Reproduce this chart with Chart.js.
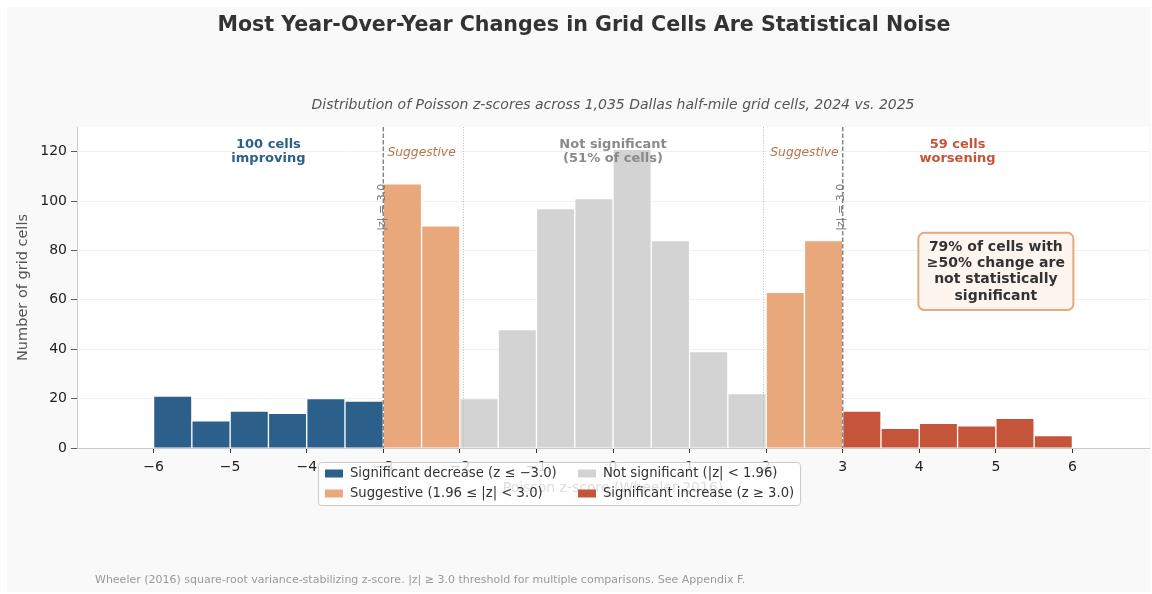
<!DOCTYPE html>
<html>
<head>
<meta charset="utf-8">
<script src="https://cdn.jsdelivr.net/npm/chart.js@4.4.1/dist/chart.umd.min.js"></script>
<style>
  html, body { margin: 0; padding: 0; background: #ffffff; }
  #wrap { width: 1152px; height: 594px; position: relative; }
</style>
</head>
<body>
<div id="wrap"><canvas id="chart"></canvas></div>
<script>
// histogram bins (width 0.5), z-score bin centres
const binCenters = [-5.75, -5.25, -4.75, -4.25, -3.75, -3.25, -2.75, -2.25,
                    -1.75, -1.25, -0.75, -0.25, 0.25, 0.75, 1.25, 1.75,
                    2.25, 2.75, 3.25, 3.75, 4.25, 4.75, 5.25, 5.75];
// number of grid cells per bin
const cellCounts = [21, 11, 15, 14, 20, 19, 107, 90,
                    20, 48, 97, 101, 121, 84, 39, 22,
                    63, 84, 15, 8, 10, 9, 12, 5];
// significance class of each bin
const binClass = ['dec', 'dec', 'dec', 'dec', 'dec', 'dec', 'sug', 'sug',
                  'ns', 'ns', 'ns', 'ns', 'ns', 'ns', 'ns', 'ns',
                  'sug', 'sug', 'inc', 'inc', 'inc', 'inc', 'inc', 'inc'];

const classKeys = ['dec', 'sug', 'ns', 'inc'];
const classLabels = ['Significant decrease (z \u2264 \u22123.0)', 'Suggestive (1.96 \u2264 |z| < 3.0)',
                     'Not significant (|z| < 1.96)', 'Significant increase (z \u2265 3.0)'];
const classColors = ['#2c5f8a', '#e8a87c', '#d3d3d3', '#c4553a'];

const xTicks = [-6, -5, -4, -3, -2, -1, 0, 1, 2, 3, 4, 5, 6];
const yTicks = [0, 20, 40, 60, 80, 100, 120];

const FONT = '"DejaVu Sans", "Noto Sans", sans-serif';

const datasets = classKeys.map((k, i) => ({
  label: classLabels[i],
  data: binCenters.map((c, j) => ({ x: c, y: cellCounts[j], k: binClass[j] }))
                  .filter(p => p.k === k),
  backgroundColor: classColors[i],
  borderColor: '#ffffff',
  borderWidth: 1,
  grouped: false,
  barPercentage: 1,
  categoryPercentage: 1
}));

function minusLabel(v) {
  return v < 0 ? '\u2212' + Math.abs(v) : String(v);
}

// background panel + plot area
const backdrop = {
  id: 'backdrop',
  beforeDraw(chart) {
    const ctx = chart.ctx, a = chart.chartArea;
    ctx.save();
    ctx.fillStyle = '#f9f9f9';
    ctx.fillRect(7, 7, 1143, 585);
    ctx.fillStyle = '#ffffff';
    ctx.fillRect(a.left, a.top, a.right - a.left, a.bottom - a.top);
    ctx.restore();
  }
};

// thresholds, region labels, callout
const annotations = {
  id: 'annotations',
  afterDatasetsDraw(chart) {
    const ctx = chart.ctx, a = chart.chartArea;
    const xs = chart.scales.x, ys = chart.scales.y;
    ctx.save();

    // |z| = 1.96 dotted
    ctx.strokeStyle = '#bbbbbb';
    ctx.lineWidth = 1;
    ctx.setLineDash([1, 1.65]);
    [-1.96, 1.96].forEach(v => {
      const px = Math.round(xs.getPixelForValue(v)) + 0.5;
      ctx.beginPath(); ctx.moveTo(px, a.top); ctx.lineTo(px, a.bottom); ctx.stroke();
    });

    // |z| = 3 dashed
    ctx.strokeStyle = '#888888';
    ctx.lineWidth = 1.5;
    ctx.setLineDash([4.5, 2]);
    [-3, 3].forEach(v => {
      const px = xs.getPixelForValue(v);
      ctx.beginPath(); ctx.moveTo(px, a.top); ctx.lineTo(px, a.bottom); ctx.stroke();
    });
    ctx.setLineDash([]);

    // rotated threshold labels
    ctx.fillStyle = '#777777';
    ctx.font = '11px ' + FONT;
    ctx.textAlign = 'right';
    ctx.textBaseline = 'middle';
    [-3, 3].forEach(v => {
      ctx.save();
      ctx.translate(xs.getPixelForValue(v) - 1.5, ys.getPixelForValue(107));
      ctx.rotate(-Math.PI / 2);
      ctx.fillText('|z| = 3.0', 0, 0);
      ctx.restore();
    });

    // region labels
    ctx.textAlign = 'center';
    const lines = (txt, x, yv, color, font) => {
      ctx.fillStyle = color;
      ctx.font = font;
      const y0 = ys.getPixelForValue(yv);
      txt.forEach((t, i) => ctx.fillText(t, xs.getPixelForValue(x), y0 + i * 14));
    };
    lines(['100 cells', 'improving'], -4.5, 122.8, '#2c5f8a', 'bold 13px ' + FONT);
    lines(['Not significant', '(51% of cells)'], 0, 122.8, '#8a8a8a', 'bold 13px ' + FONT);
    lines(['59 cells', 'worsening'], 4.5, 122.8, '#c4553a', 'bold 13px ' + FONT);
    lines(['Suggestive'], -2.5, 119.6, '#b5784f', 'italic 12.3px ' + FONT);
    lines(['Suggestive'], 2.5, 119.6, '#b5784f', 'italic 12.3px ' + FONT);

    // callout box
    const boxLines = ['79% of cells with', '\u226550% change are', 'not statistically', 'significant'];
    ctx.font = 'bold 14px ' + FONT;
    const w = Math.max(...boxLines.map(t => ctx.measureText(t).width)) + 17;
    const lh = 16.3;
    const h = boxLines.length * lh + 12;
    const cx = xs.getPixelForValue(5), cy = ys.getPixelForValue(71.5);
    ctx.beginPath();
    ctx.roundRect(cx - w / 2, cy - h / 2, w, h, 6);
    ctx.fillStyle = '#fef6ee';
    ctx.fill();
    ctx.strokeStyle = '#e8a87c';
    ctx.lineWidth = 2;
    ctx.stroke();
    ctx.fillStyle = '#333333';
    boxLines.forEach((t, i) => ctx.fillText(t, cx, cy - h / 2 + 6 + lh * (i + 0.5)));

    ctx.restore();
  }
};

// title, subtitle, x-axis title, legend, footnote
const overlay = {
  id: 'overlay',
  afterDraw(chart) {
    const ctx = chart.ctx, a = chart.chartArea;
    const mid = (a.left + a.right) / 2;
    ctx.save();
    ctx.textAlign = 'center';
    ctx.textBaseline = 'middle';

    ctx.fillStyle = '#333333';
    ctx.font = 'bold 20.6px ' + FONT;
    ctx.fillText('Most Year-Over-Year Changes in Grid Cells Are Statistical Noise', 584, 26);

    ctx.fillStyle = '#555555';
    ctx.font = 'italic 14px ' + FONT;
    ctx.fillText('Distribution of Poisson z-scores across 1,035 Dallas half-mile grid cells, 2024 vs. 2025', mid, a.top - 22);

    ctx.font = '14px ' + FONT;
    ctx.fillText('Poisson z-score (Wheeler 2016)', mid, a.bottom + 40);

    // legend
    const lx = 318, ly = a.bottom + 14, lw = 482, lh = 43;
    ctx.beginPath();
    ctx.roundRect(lx + 0.5, ly + 0.5, lw, lh, 3);
    ctx.fillStyle = 'rgba(255,255,255,0.8)';
    ctx.fill();
    ctx.strokeStyle = '#cccccc';
    ctx.lineWidth = 1;
    ctx.stroke();
    ctx.font = '13.2px ' + FONT;
    ctx.textAlign = 'left';
    chart.data.datasets.forEach((ds, i) => {
      const col = Math.floor(i / 2), row = i % 2;
      const x = lx + 7 + col * 253;
      const y = ly + 11.5 + row * 20;
      ctx.fillStyle = ds.backgroundColor;
      ctx.fillRect(x, y - 4, 18, 8);
      ctx.fillStyle = '#333333';
      ctx.fillText(ds.label, x + 25, y + 0.5);
    });

    ctx.fillStyle = '#999999';
    ctx.font = '11px ' + FONT;
    ctx.fillText('Wheeler (2016) square-root variance-stabilizing z-score. |z| \u2265 3.0 threshold for multiple comparisons. See Appendix F.', 95, 580);
    ctx.restore();
  }
};

new Chart(document.getElementById('chart'), {
  type: 'bar',
  data: { datasets: datasets },
  options: {
    responsive: true,
    maintainAspectRatio: false,
    animation: false,
    layout: { padding: { left: 7, right: 3, top: 127, bottom: 116 } },
    plugins: {
      legend: { display: false },
      tooltip: { enabled: false },
      title: { display: false }
    },
    scales: {
      x: {
        type: 'linear',
        min: -7,
        max: 7,
        offset: false,
        afterBuildTicks: s => { s.ticks = xTicks.map(v => ({ value: v })); },
        afterFit: s => { s.height = 30; },
        grid: { offset: false, drawOnChartArea: false, drawTicks: true, tickLength: 5, tickColor: '#333333' },
        border: { color: '#cccccc', width: 1 },
        ticks: {
          color: '#222222',
          font: { family: FONT, size: 14 },
          padding: 6,
          maxRotation: 0,
          autoSkip: false,
          callback: v => minusLabel(v)
        }
      },
      y: {
        min: 0,
        max: 130,
        afterBuildTicks: s => { s.ticks = yTicks.map(v => ({ value: v })); },
        afterFit: s => { s.width = 70; },
        grid: { color: '#ececec', lineWidth: 0.8, drawTicks: true, tickLength: 6, tickColor: '#333333' },
        border: { color: '#cccccc', width: 1 },
        ticks: {
          color: '#222222',
          font: { family: FONT, size: 14 },
          padding: 4
        },
        title: {
          display: true,
          text: 'Number of grid cells',
          color: '#555555',
          font: { family: FONT, size: 14.5 },
          padding: { top: 8, bottom: 0 }
        }
      }
    }
  },
  plugins: [backdrop, annotations, overlay]
});
</script>
</body>
</html>
